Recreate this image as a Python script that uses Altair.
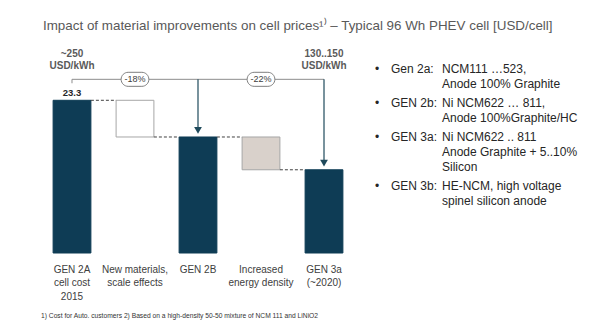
import altair as alt
import pandas as pd

# ---------------- data ----------------
categories = ["GEN 2A\ncell cost\n2015", "New materials,\nscale effects", "GEN 2B",
              "Increased\nenergy density", "GEN 3a\n(~2020)"]
totals = [23.3, 17.7, 12.7]          # GEN 2A, GEN 2B, GEN 3a (USD/cell)
changes = ["-18%", "-22%"]
kwh_labels = ["~250\nUSD/kWh", "130..150\nUSD/kWh"]
value_label = "23.3"
side_labels = ["Gen 2a:", "GEN 2b:", "GEN 3a:", "GEN 3b:"]
side_texts = [["NCM111 \u2026523,", "Anode 100% Graphite"],
              ["Ni NCM622 \u2026 811,", "Anode 100%Graphite/HC"],
              ["Ni NCM622 .. 811", "Anode Graphite + 5..10%", "Silicon"],
              ["HE-NCM, high voltage", "spinel silicon anode"]]
title_text = "Impact of material improvements on cell prices\u00b9\u207e \u2013 Typical 96 Wh PHEV cell [USD/cell]"
footnote = "1) Cost for Auto. customers   2) Based on a high-density 50-50 mixture of NCM 111 and LiNiO2"

# ---------------- styles ----------------
SANS = "Liberation Sans, Arial, sans-serif"
DARK = "#0e3c55"
ARROW = "#1f4a5c"
GRAY = "#8c8c8c"
W, H = 314, 213
HALF = 0.3

x_scale = alt.Scale(domain=[-0.492, 4.492], nice=False, zero=False)
y_scale = alt.Scale(domain=[0, 32.5], nice=False, zero=False)

def X(field, axis=None):
    return alt.X(field, type="quantitative", scale=x_scale, axis=axis)

def Y(field):
    return alt.Y(field, type="quantitative", scale=y_scale, axis=None)

# waterfall bars
t0, t1, t2 = totals
bars = pd.DataFrame({
    "pos": [0, 1, 2, 3, 4],
    "lo": [0, t1, 0, t2, 0],
    "hi": [t0, t0, t1, t1, t2],
    "kind": ["total", "step1", "total", "step2", "total"],
})
bars["x0"] = bars["pos"] - HALF
bars["x1"] = bars["pos"] + HALF

x_axis = alt.Axis(labels=False, ticks=False, grid=False, title=None,
                  domainColor="#7f7f7f", domainWidth=1.5)

bar_layer = alt.Chart(bars).mark_rect(strokeWidth=1).encode(
    x=X("x0", axis=x_axis), x2="x1",
    y=Y("lo"), y2="hi",
    fill=alt.Fill("kind:N", scale=alt.Scale(domain=["total", "step1", "step2"],
                                             range=[DARK, "#ffffff", "#d9d1cb"]), legend=None),
    stroke=alt.Stroke("kind:N", scale=alt.Scale(domain=["total", "step1", "step2"],
                                                 range=[DARK, "#a6a6a6", "#a6a6a6"]), legend=None),
)

# dashed connectors
conn = pd.DataFrame({
    "xa": [i + HALF for i in range(4)],
    "xb": [i + 1 - HALF for i in range(4)],
    "y": [t0, t1, t1, t2],
})
conn_layer = alt.Chart(conn).mark_rule(color="#404040", strokeDash=[3, 2], strokeWidth=1).encode(
    x=X("xa"), x2="xb", y=Y("y"))

# bracket
br_y = 26.5
bracket = pd.DataFrame({"xa": [0], "xb": [4], "y": [br_y]})
bracket_layer = alt.Chart(bracket).mark_rule(color=GRAY, strokeWidth=1).encode(
    x=X("xa"), x2="xb", y=Y("y"))

tick = pd.DataFrame({"x": [0], "ya": [br_y], "yb": [br_y - 0.6]})
tick_layer = alt.Chart(tick).mark_rule(color=GRAY, strokeWidth=1).encode(
    x=X("x"), y=Y("ya"), y2="yb")

arrows = pd.DataFrame({"x": [2, 4], "ya": [br_y, br_y], "yb": [t1 + 1.0, t2 + 1.0]})
arrow_layer = alt.Chart(arrows).mark_rule(color=ARROW, strokeWidth=1.2).encode(
    x=X("x"), y=Y("ya"), y2="yb")
head_layer = alt.Chart(arrows).mark_point(shape="triangle-down", filled=True, size=60,
                                          color=ARROW, opacity=1).encode(
    x=X("x"), y=Y("yb"))

# pills
pills = pd.DataFrame({"x": [1, 3], "label": changes})
pills["xa"] = pills["x"] - 0.22
pills["xb"] = pills["x"] + 0.22
pills["ya"] = br_y - 1.07
pills["yb"] = br_y + 1.07
pills["ym"] = br_y
pill_layer = alt.Chart(pills).mark_rect(fill="white", stroke="#7f7f7f", strokeWidth=1,
                                        cornerRadius=7).encode(
    x=X("xa"), x2="xb", y=Y("ya"), y2="yb")
pill_text = alt.Chart(pills).mark_text(font=SANS, fontSize=9, color="#404040",
                                       baseline="middle").encode(
    x=X("x"), y=Y("ym"), text="label")

# kWh labels
kwh = pd.DataFrame({"x": [0, 4], "label": kwh_labels, "y": [31.2, 31.2]})
kwh_layer = alt.Chart(kwh).mark_text(font=SANS, fontSize=10, fontWeight="bold",
                                     color="#5a5a5a", baseline="top", lineBreak="\n",
                                     lineHeight=12.7).encode(
    x=X("x"), y=Y("y"), text="label")

# value label
val = pd.DataFrame({"x": [0], "y": [t0], "label": [value_label]})
val_layer = alt.Chart(val).mark_text(font=SANS, fontSize=9.5, fontWeight="bold",
                                     color="#262626", baseline="bottom", dy=-2).encode(
    x=X("x"), y=Y("y"), text="label")

# category labels
cats = pd.DataFrame({"x": [0, 1, 2, 3, 4], "label": categories})
cat_layer = alt.Chart(cats).mark_text(font=SANS, fontSize=10, color="#404040",
                                      baseline="top", lineBreak="\n", lineHeight=13.3).encode(
    x=X("x"), y=alt.value(H + 12), text="label")

# footnote
foot = pd.DataFrame({"label": [footnote]})
foot_layer = alt.Chart(foot).mark_text(font=SANS, fontSize=6.7, color="#333333",
                                       align="left", baseline="middle").encode(
    x=alt.value(0), y=alt.value(276), text="label")

# side panel
rows = []
y0 = 69.3 - 40
for lab, lines in zip(side_labels, side_texts):
    rows.append({"px": 375 - 41, "py": y0, "t": "\u2022"})
    rows.append({"px": 391 - 41, "py": y0, "t": lab})
    rows.append({"px": 442 - 41, "py": y0, "t": "\n".join(lines)})
    y0 += 15 * len(lines) + 4
side = pd.DataFrame(rows)
side_layer = alt.Chart(side).mark_text(font=SANS, fontSize=12, color="#262626", align="left",
                                       baseline="middle", lineBreak="\n", lineHeight=15).encode(
    x=alt.X("px:Q", scale=None, axis=None), y=alt.Y("py:Q", scale=None, axis=None), text="t")

chart = alt.layer(
    bar_layer, conn_layer, bracket_layer, tick_layer, arrow_layer, head_layer,
    pill_layer, pill_text, kwh_layer, val_layer, cat_layer, foot_layer, side_layer
).properties(
    width=W, height=H,
    background="white",
    title=alt.TitleParams(title_text, anchor="start", font=SANS, fontSize=13.4,
                          fontWeight="normal", color="#595959", offset=8, dx=2),
    autosize=alt.AutoSizeParams(type="none"),
    padding={"left": 41, "top": 40, "right": 245, "bottom": 82},
).configure_view(stroke=None)

chart.save("out.html", embed_options={"renderer": "svg", "actions": False})
